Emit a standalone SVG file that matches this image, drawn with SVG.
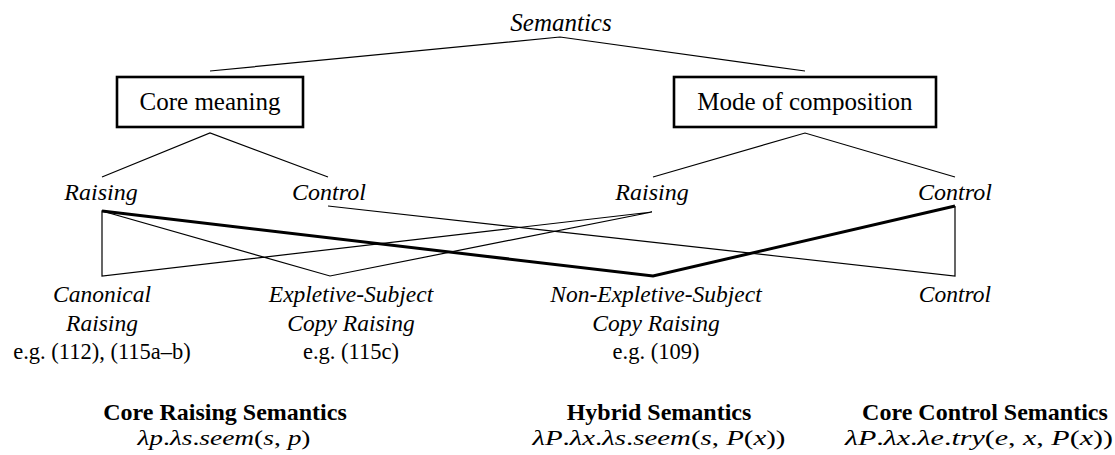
<svg xmlns="http://www.w3.org/2000/svg" width="1115" height="455" viewBox="0 0 1115 455">
<style>
text{font-family:"Liberation Serif","Times New Roman",serif;fill:#000;text-anchor:middle}
.top{font-size:25px}
.it{font-style:italic}
.lv2{font-size:24px;font-style:italic}
.lab{font-size:23.5px;font-style:italic}
.reg{font-size:22.5px}
.bold{font-size:24px;font-weight:bold}
.m{font-size:21px;font-style:italic}
.u{font-style:normal}
.box{fill:#fff;stroke:#000;stroke-width:2.6}
.thin{fill:none;stroke:#000;stroke-width:1.2}
.thick{fill:none;stroke:#000;stroke-width:3}
</style>
<rect width="1115" height="455" fill="#fff"/>
<g id="connectors">
<polyline class="thin" points="210,71 560,37 805,71"/>
<polyline class="thin" points="102,177 210,133 328,177"/>
<polyline class="thin" points="653,177 805,133 955,177"/>
<polyline class="thin" points="328,206 955,276 955,206"/>
<polyline class="thin" points="652,212 102,276 102,211 330,276 652,212"/>
<polyline class="thick" points="102,211 653,276 955,206"/>
</g>
<g id="semantics"><text class="top it" x="561" y="31">Semantics</text></g>
<g id="core-meaning"><rect class="box" x="117" y="77" width="186" height="50"/><text class="top" x="210" y="110">Core meaning</text></g>
<g id="mode-of-composition"><rect class="box" x="674" y="77" width="262" height="50"/><text class="top" x="805" y="110">Mode of composition</text></g>
<g id="core-raising"><text class="lv2" x="101" y="200">Raising</text></g>
<g id="core-control"><text class="lv2" x="329" y="200">Control</text></g>
<g id="mode-raising"><text class="lv2" x="652" y="200">Raising</text></g>
<g id="mode-control"><text class="lv2" x="955" y="200">Control</text></g>
<g id="canonical-raising">
<text class="lab" x="102" y="302">Canonical</text>
<text class="lab" x="102" y="331">Raising</text>
<text class="reg" x="102" y="359">e.g. (112), (115a–b)</text>
</g>
<g id="expletive-subject-copy-raising">
<text class="lab" x="351" y="302">Expletive-Subject</text>
<text class="lab" x="351" y="331">Copy Raising</text>
<text class="reg" x="351" y="359">e.g. (115c)</text>
</g>
<g id="non-expletive-subject-copy-raising">
<text class="lab" x="656" y="302">Non-Expletive-Subject</text>
<text class="lab" x="656" y="331">Copy Raising</text>
<text class="reg" x="656" y="359">e.g. (109)</text>
</g>
<g id="control-leaf">
<text class="lab" x="955" y="302">Control</text>
</g>
<g id="core-raising-semantics">
<text class="bold" x="225" y="420">Core Raising Semantics</text>
<text class="m" x="224" y="444.5" textLength="173" lengthAdjust="spacingAndGlyphs">λp<tspan class="u">.</tspan>λs<tspan class="u">.</tspan>seem<tspan class="u">(</tspan>s<tspan class="u">, </tspan>p<tspan class="u">)</tspan></text>
</g>
<g id="hybrid-semantics">
<text class="bold" x="659" y="420">Hybrid Semantics</text>
<text class="m" x="659" y="444.5" textLength="253" lengthAdjust="spacingAndGlyphs">λP<tspan class="u">.</tspan>λx<tspan class="u">.</tspan>λs<tspan class="u">.</tspan>seem<tspan class="u">(</tspan>s<tspan class="u">, </tspan>P<tspan class="u">(</tspan>x<tspan class="u">))</tspan></text>
</g>
<g id="core-control-semantics">
<text class="bold" x="985" y="420">Core Control Semantics</text>
<text class="m" x="979" y="444.5" textLength="268" lengthAdjust="spacingAndGlyphs">λP<tspan class="u">.</tspan>λx<tspan class="u">.</tspan>λe<tspan class="u">.</tspan>try<tspan class="u">(</tspan>e<tspan class="u">, </tspan>x<tspan class="u">, </tspan>P<tspan class="u">(</tspan>x<tspan class="u">))</tspan></text>
</g>
</svg>
